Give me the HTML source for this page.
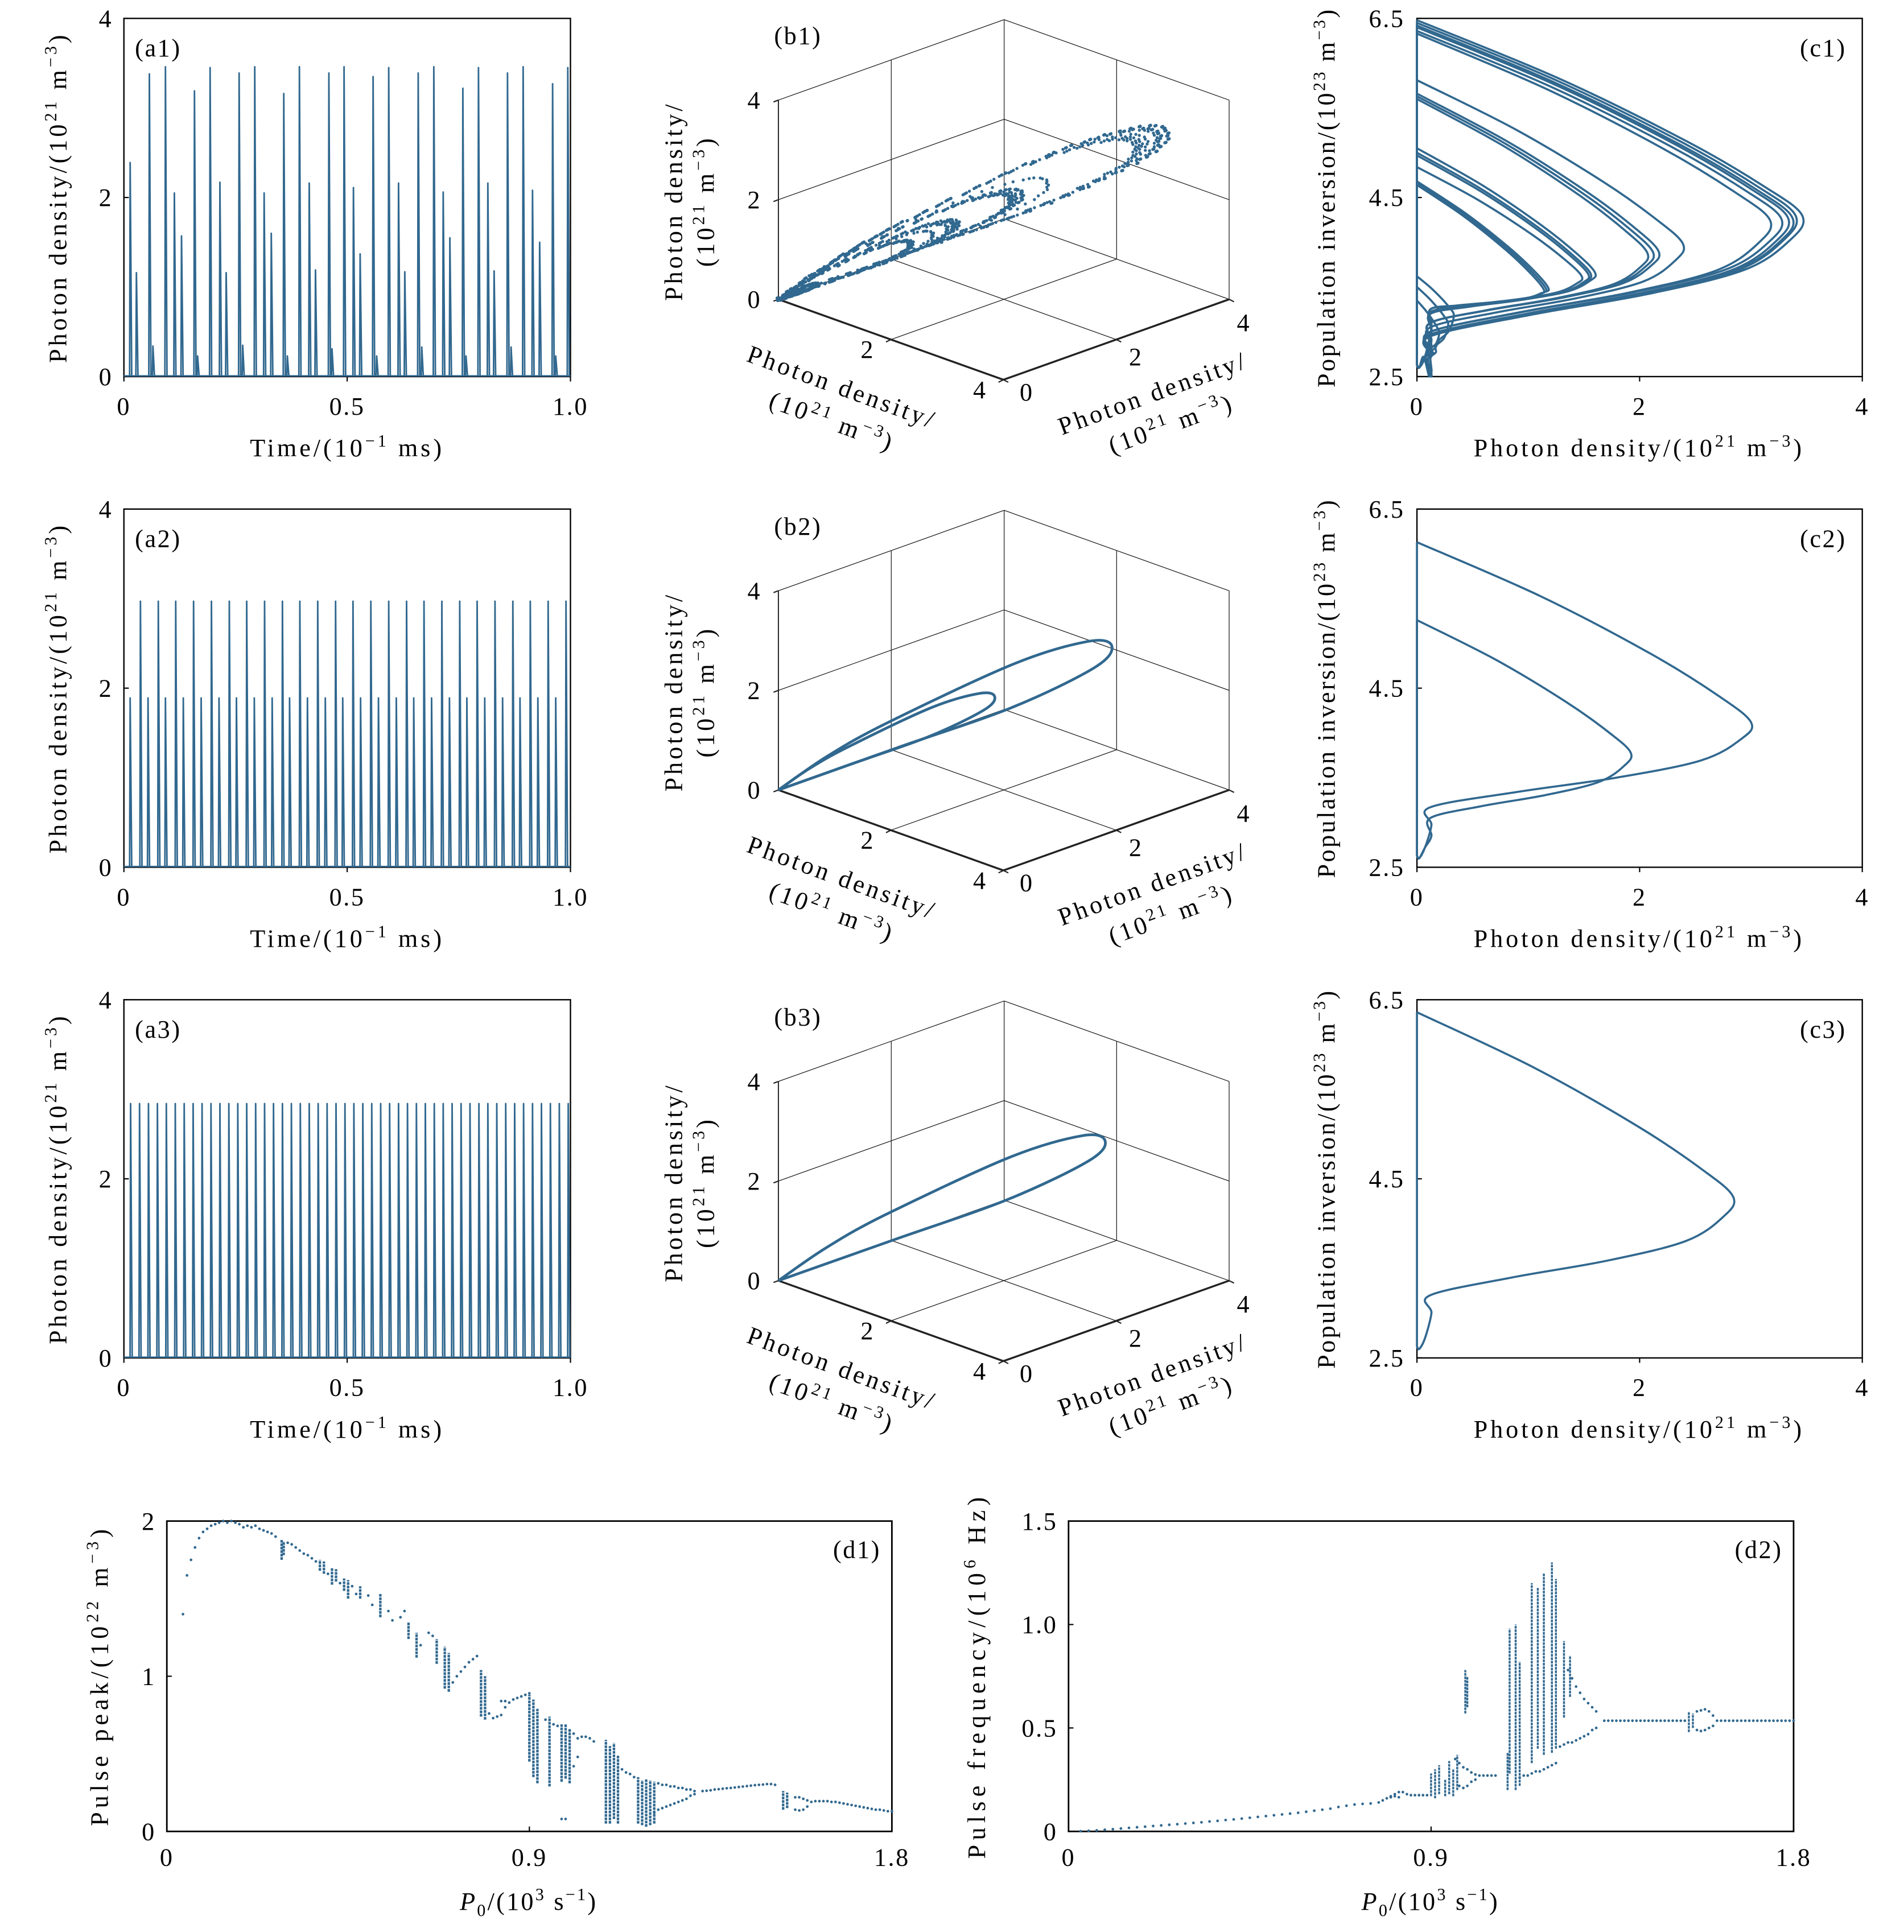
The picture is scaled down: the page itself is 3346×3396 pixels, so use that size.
<!DOCTYPE html>
<html><head><meta charset="utf-8"><style>
html,body{margin:0;padding:0;background:#fff}
svg{display:block}
text{font-family:"Liberation Serif","DejaVu Serif",serif;fill:#000}
</style></head><body>
<svg id="fig" xmlns="http://www.w3.org/2000/svg" width="3346" height="3396" viewBox="0 0 1552 1575" preserveAspectRatio="none">
<rect x="0" y="0" width="1552" height="1575" fill="#fff"/>
<g id="static"></g>
<g id="marks"></g>
</svg>
<script>
// ---------------- DATA ----------------
const a1Times=[0.014,0.028,0.057,0.065,0.093,0.113,0.129,0.158,0.165,0.193,0.215,0.229,0.258,0.266,0.293,0.314,0.330,0.358,0.366,0.393,0.415,0.429,0.459,0.466,0.493,0.514,0.529,0.558,0.566,0.593,0.615,0.629,0.659,0.667,0.694,0.715,0.730,0.759,0.766,0.794,0.815,0.829,0.859,0.867,0.894,0.915,0.931,0.960,0.967,0.994];
const a1Peaks=[2.39,1.16,3.38,0.34,3.46,2.05,1.57,3.19,0.23,3.45,2.17,1.16,3.39,0.35,3.46,2.05,1.60,3.16,0.23,3.46,2.16,1.19,3.39,0.31,3.46,2.11,1.37,3.35,0.23,3.45,2.16,1.17,3.39,0.33,3.46,2.06,1.55,3.22,0.23,3.45,2.16,1.18,3.39,0.33,3.46,2.08,1.50,3.27,0.23,3.45];
const a2Times=[0.014,0.037,0.054,0.077,0.093,0.116,0.133,0.156,0.173,0.196,0.213,0.236,0.252,0.275,0.292,0.315,0.332,0.355,0.371,0.394,0.411,0.434,0.451,0.474,0.490,0.513,0.530,0.553,0.570,0.593,0.610,0.633,0.649,0.672,0.689,0.712,0.729,0.752,0.768,0.791,0.808,0.831,0.848,0.871,0.887,0.910,0.927,0.950,0.967,0.990];
const a2Peaks=[1.89,2.97,1.89,2.97,1.89,2.97,1.89,2.97,1.89,2.97,1.89,2.97,1.89,2.97,1.89,2.97,1.89,2.97,1.89,2.97,1.89,2.97,1.89,2.97,1.89,2.97,1.89,2.97,1.89,2.97,1.89,2.97,1.89,2.97,1.89,2.97,1.89,2.97,1.89,2.97,1.89,2.97,1.89,2.97,1.89,2.97,1.89,2.97,1.89,2.97];
const a3Times=[0.015,0.035,0.055,0.075,0.095,0.115,0.135,0.155,0.175,0.195,0.215,0.235,0.255,0.275,0.295,0.315,0.335,0.355,0.375,0.395,0.415,0.435,0.455,0.475,0.495,0.515,0.535,0.555,0.575,0.595,0.615,0.635,0.655,0.675,0.695,0.715,0.735,0.755,0.775,0.795,0.815,0.835,0.855,0.875,0.895,0.915,0.935,0.955,0.975,0.995];
const a3Peak=2.84;
// 3D embedding loops [x,y,z]
const b2BigLoop=[[0,0,0],[0.1,0.77,0.41],[0.31,1.63,0.82],[1.43,2.76,2.0],[2.55,2.96,2.82],[2.96,2.96,2.88],[2.8,2.8,2.45],[2.04,2.1,1.63],[1.02,1.09,0.82],[0,0,0]];
const b2SmallLoop=[[0,0,0],[0.07,0.5,0.27],[0.2,1.06,0.53],[0.92,1.78,1.3],[1.65,1.92,1.83],[1.92,1.92,1.87],[1.82,1.82,1.6],[1.32,1.35,1.06],[0.66,0.7,0.53],[0,0,0]];
const b3Loop=[[0,0,0],[0.1,0.75,0.4],[0.3,1.6,0.8],[1.4,2.7,1.95],[2.5,2.9,2.75],[2.9,2.9,2.8],[2.75,2.75,2.4],[2.0,2.05,1.6],[1.0,1.07,0.8],[0,0,0]];
// phase portraits (top N, peak photon, N at peak, kink N)
const c1Top=[6.48,6.45,6.42,6.40,6.36,6.33,5.81,5.66,5.63,5.60,5.05,5.00,4.97,4.84,4.68,4.66,4.64,3.62,3.50,3.35];
const c1PeakX=[3.46,3.40,3.37,3.33,3.27,3.17,2.39,2.17,2.12,2.07,1.60,1.56,1.54,1.48,1.18,1.16,1.14,0.33,0.28,0.20];
const c1PeakY=[4.30,4.30,4.28,4.28,4.27,4.25,3.98,3.90,3.89,3.88,3.66,3.65,3.64,3.62,3.49,3.48,3.47,3.20,3.10,3.00];
const c1Kink=[2.95,2.95,2.97,2.97,3.00,3.00,3.05,3.10,3.10,3.10,3.20,3.20,3.20,3.22,3.25,3.25,3.25,2.75,2.70,2.70];
const c2Top=[6.13,5.26];
const c2PeakX=[3.0,1.92];
const c2PeakY=[4.12,3.78];
const c2Kink=[3.17,3.05];
const c3Top=[6.36];
const c3PeakX=[2.84];
const c3PeakY=[4.30];
const c3Kink=[3.20];
// bifurcation diagrams
const d1Points=[[0.04,1.4],[0.05,1.65],[0.06,1.75],[0.07,1.83],[0.08,1.89],[0.09,1.93],[0.1,1.95],[0.11,1.97],[0.12,1.98],[0.13,1.99],[0.14,2.0],[0.15,1.99],[0.16,2.0],[0.17,1.99],[0.18,1.98],[0.19,1.96],[0.2,1.97],[0.21,1.96],[0.22,1.97],[0.23,1.95],[0.24,1.94],[0.25,1.93],[0.26,1.92],[0.27,1.9],[0.3,1.86],[0.31,1.85],[0.32,1.83],[0.33,1.81],[0.34,1.79],[0.35,1.78],[0.36,1.76],[0.37,1.74],[0.4,1.66],[0.43,1.6],[0.46,1.58],[0.47,1.53],[0.5,1.52],[0.51,1.46],[0.55,1.42],[0.56,1.36],[0.58,1.38],[0.59,1.42],[0.63,1.2],[0.65,1.28],[0.66,1.26],[0.71,0.96],[0.72,1.0],[0.73,1.03],[0.74,1.06],[0.75,1.09],[0.76,1.11],[0.77,1.13],[0.8,0.76],[0.81,0.73],[0.82,0.74],[0.83,0.75],[0.84,0.8],[0.85,0.83],[0.86,0.85],[0.87,0.86],[0.88,0.87],[0.89,0.88],[0.9,0.89],[0.83,0.84],[0.84,0.84],[0.94,0.72],[0.96,0.69],[0.97,0.68],[1.0,0.65],[1.01,0.63],[1.02,0.6],[1.03,0.61],[1.04,0.61],[1.05,0.6],[1.06,0.58],[1.01,0.42],[1.02,0.48],[1.13,0.4],[1.14,0.38],[1.15,0.37],[1.16,0.35],[1.22,0.31],[1.23,0.3],[1.24,0.3],[1.25,0.29],[1.26,0.29],[1.27,0.28],[1.28,0.28],[1.29,0.27],[1.3,0.27],[1.31,0.26],[1.21,0.12],[1.22,0.14],[1.23,0.15],[1.24,0.16],[1.25,0.17],[1.26,0.18],[1.27,0.19],[1.28,0.2],[1.29,0.21],[1.3,0.23],[1.31,0.24],[1.33,0.26],[1.34,0.262],[1.35,0.265],[1.36,0.27],[1.37,0.272],[1.38,0.275],[1.39,0.278],[1.4,0.28],[1.41,0.283],[1.42,0.286],[1.43,0.289],[1.44,0.292],[1.45,0.295],[1.46,0.298],[1.47,0.3],[1.48,0.302],[1.49,0.305],[1.5,0.305],[1.51,0.3],[1.56,0.22],[1.57,0.22],[1.58,0.21],[1.59,0.2],[1.56,0.14],[1.57,0.135],[1.58,0.14],[1.59,0.16],[1.6,0.19],[1.61,0.195],[1.62,0.195],[1.63,0.195],[1.64,0.195],[1.65,0.19],[1.66,0.19],[1.67,0.185],[1.68,0.18],[1.69,0.175],[1.7,0.17],[1.71,0.165],[1.72,0.16],[1.73,0.155],[1.74,0.15],[1.75,0.145],[1.76,0.14],[1.77,0.14],[1.78,0.135],[1.79,0.13],[1.8,0.13],[0.98,0.08],[0.99,0.08]];
const d1Bands=[[0.285,1.75,1.88],[0.29,1.78,1.87],[0.38,1.68,1.75],[0.39,1.66,1.74],[0.41,1.59,1.70],[0.42,1.61,1.69],[0.44,1.55,1.63],[0.45,1.5,1.62],[0.48,1.5,1.58],[0.53,1.38,1.53],[0.6,1.24,1.35],[0.62,1.12,1.28],[0.67,1.08,1.24],[0.69,0.92,1.19],[0.7,0.9,1.15],[0.78,0.74,1.04],[0.79,0.72,1.0],[0.9,0.45,0.88],[0.91,0.35,0.85],[0.92,0.31,0.79],[0.95,0.29,0.74],[0.98,0.32,0.69],[0.99,0.34,0.69],[1.0,0.31,0.66],[1.09,0.05,0.59],[1.1,0.05,0.55],[1.11,0.08,0.57],[1.12,0.05,0.49],[1.17,0.05,0.35],[1.18,0.04,0.33],[1.19,0.03,0.34],[1.2,0.04,0.33],[1.21,0.05,0.32],[1.53,0.14,0.26],[1.54,0.15,0.25]];
const d2Points=[[0.03,0.001],[0.05,0.003],[0.07,0.005],[0.09,0.008],[0.11,0.011],[0.13,0.014],[0.15,0.017],[0.17,0.02],[0.19,0.023],[0.21,0.026],[0.23,0.029],[0.25,0.032],[0.27,0.035],[0.29,0.038],[0.31,0.041],[0.33,0.044],[0.35,0.048],[0.37,0.051],[0.39,0.055],[0.41,0.058],[0.43,0.062],[0.45,0.066],[0.47,0.07],[0.49,0.074],[0.51,0.078],[0.53,0.082],[0.55,0.086],[0.57,0.09],[0.59,0.095],[0.61,0.1],[0.63,0.105],[0.65,0.11],[0.67,0.118],[0.69,0.124],[0.71,0.13],[0.73,0.133],[0.75,0.135],[0.77,0.14],[0.78,0.15],[0.79,0.16],[0.8,0.165],[0.81,0.18],[0.82,0.19],[0.83,0.19],[0.84,0.18],[0.8,0.17],[0.81,0.17],[0.82,0.165],[0.85,0.175],[0.86,0.175],[0.87,0.175],[0.88,0.175],[0.89,0.175],[0.96,0.35],[0.97,0.33],[0.98,0.31],[0.99,0.3],[1.0,0.285],[1.01,0.275],[0.97,0.22],[0.98,0.21],[0.99,0.22],[1.0,0.24],[1.01,0.25],[1.02,0.27],[1.03,0.27],[1.04,0.27],[1.05,0.27],[1.06,0.27],[1.12,0.26],[1.13,0.27],[1.14,0.27],[1.15,0.28],[1.16,0.29],[1.17,0.29],[1.18,0.3],[1.19,0.31],[1.2,0.32],[1.21,0.33],[1.24,0.78],[1.25,0.74],[1.26,0.7],[1.27,0.67],[1.28,0.64],[1.29,0.62],[1.3,0.6],[1.31,0.58],[1.22,0.41],[1.23,0.42],[1.24,0.43],[1.25,0.43],[1.26,0.44],[1.27,0.45],[1.28,0.46],[1.29,0.47],[1.3,0.49],[1.31,0.5],[1.33,0.535],[1.34,0.535],[1.35,0.535],[1.36,0.535],[1.37,0.535],[1.38,0.535],[1.39,0.535],[1.4,0.535],[1.41,0.535],[1.42,0.535],[1.43,0.535],[1.44,0.535],[1.45,0.535],[1.46,0.535],[1.47,0.535],[1.48,0.535],[1.49,0.535],[1.5,0.535],[1.51,0.535],[1.52,0.535],[1.53,0.535],[1.56,0.58],[1.57,0.585],[1.58,0.59],[1.59,0.58],[1.6,0.56],[1.56,0.49],[1.57,0.485],[1.58,0.49],[1.59,0.5],[1.6,0.51],[1.61,0.535],[1.62,0.535],[1.63,0.535],[1.64,0.535],[1.65,0.535],[1.66,0.535],[1.67,0.535],[1.68,0.535],[1.69,0.535],[1.7,0.535],[1.71,0.535],[1.72,0.535],[1.73,0.535],[1.74,0.535],[1.75,0.535],[1.76,0.535],[1.77,0.535],[1.78,0.535],[1.79,0.535],[1.8,0.535]];
const d2Bands=[[0.9,0.17,0.28],[0.91,0.16,0.3],[0.92,0.18,0.32],[0.935,0.17,0.25],[0.945,0.18,0.34],[0.955,0.17,0.3],[0.965,0.2,0.37],[0.985,0.57,0.78],[0.99,0.6,0.75],[1.09,0.2,0.38],[1.095,0.28,0.98],[1.11,0.2,1.0],[1.12,0.22,0.82],[1.15,0.33,1.2],[1.165,0.4,1.18],[1.18,0.37,1.25],[1.2,0.38,1.3],[1.21,0.4,1.22],[1.23,0.55,0.92],[1.245,0.65,0.85],[1.54,0.48,0.58],[1.55,0.5,0.57]];

// ---------------- HELPERS ----------------
const NS='http://www.w3.org/2000/svg';
const COL='#31688f';
const FS=20.5, LS=1.2, TS=20.5, TLS=2.3;
const S=document.getElementById('static');
const M=document.getElementById('marks');
function mk(tag,attrs,parent){const e=document.createElementNS(NS,tag);for(const k in attrs)e.setAttribute(k,attrs[k]);parent.appendChild(e);return e;}
function txt(str,x,y,anchor,parent,size,ls){const t=mk('text',{x:x,y:y,'text-anchor':anchor||'middle','font-size':size||FS,'letter-spacing':ls===undefined?LS:ls},parent);t.textContent=str;return t;}
function sup(t,str,dy,size){const s=mk('tspan',{dy:dy,'font-size':size||14},t);s.textContent=str;return s;}
function plain(t,str,dy){const s=mk('tspan',{dy:dy},t);s.textContent=str;return s;}
function unitLabel(prefix,exp,after,x,y,rot,parent,minus,ls){
  const t=mk('text',{x:x,y:y,'text-anchor':'middle','font-size':TS,'letter-spacing':ls===undefined?TLS:ls,transform:rot?`rotate(${rot} ${x} ${y})`:''},parent);
  plain(t,prefix+'(10',0);sup(t,exp,-8);plain(t,after,8);
  if(minus){sup(t,minus,-8);plain(t,')',8);} else plain(t,')',0);
  return t;
}
function cr(pts){let d=`M${pts[0][0].toFixed(2)},${pts[0][1].toFixed(2)}`;const n=pts.length;
  for(let i=0;i<n-1;i++){const p0=pts[Math.max(i-1,0)],p1=pts[i],p2=pts[i+1],p3=pts[Math.min(i+2,n-1)];
    const c1=[p1[0]+(p2[0]-p0[0])/6,p1[1]+(p2[1]-p0[1])/6],c2=[p2[0]-(p3[0]-p1[0])/6,p2[1]-(p3[1]-p1[1])/6];
    d+=` C${c1[0].toFixed(2)},${c1[1].toFixed(2)} ${c2[0].toFixed(2)},${c2[1].toFixed(2)} ${p2[0].toFixed(2)},${p2[1].toFixed(2)}`;}
  return d;}
function crSample(pts,per){const out=[];const n=pts.length;
  for(let i=0;i<n-1;i++){const p0=pts[Math.max(i-1,0)],p1=pts[i],p2=pts[i+1],p3=pts[Math.min(i+2,n-1)];
    for(let k=0;k<per;k++){const t=k/per,t2=t*t,t3=t2*t;const q=[];
      for(let j=0;j<2;j++){q.push(0.5*((2*p1[j])+(-p0[j]+p2[j])*t+(2*p0[j]-5*p1[j]+4*p2[j]-p3[j])*t2+(-p0[j]+3*p1[j]-3*p2[j]+p3[j])*t3));}
      out.push(q);}}
  return out;}

// ---------------- (a) time series ----------------
const ax=t=>101+t*364;
const ay=(v,row)=>307+400*row-v/4*292;
function panelA(row,times,peaks,label){
  const o=400*row;
  const g=mk('g',{},S);
  
  
  const f=mk('rect',{x:101,y:15+o,width:364,height:292,fill:'none',stroke:'#000','stroke-width':1.1},g);
  
  
  [0,2,4].forEach(v=>{const l=mk('line',{x1:101,x2:105,y1:ay(v,row),y2:ay(v,row),stroke:'#000','stroke-width':1},g);
    
    
    const t=txt(String(v),92,ay(v,row)+7,'end',g);
    
    });
  [[0,'0'],[0.5,'0.5'],[1,'1.0']].forEach(([v,s])=>{const l=mk('line',{x1:ax(v),x2:ax(v),y1:307+o,y2:311+o,stroke:'#000','stroke-width':1},g);
    
    
    const t=txt(s,ax(v),338+o,'middle',g);
    
    });
  const xl=mk('text',{x:283,y:372+o,'text-anchor':'middle','font-size':TS,'letter-spacing':TLS},g);
  plain(xl,'Time/(10',0);sup(xl,'−1',-8);plain(xl,' ms)',8);
  
  
  const yl=unitLabel('Photon density/','21',' m',54,161+o,-90,g,'−3');
  
  
  const pl=txt('('+label+')',110,46+o,'start',g);
  
  
  const sg=mk('g',{},M);
  
  
  const base=mk('line',{x1:ax(0),x2:ax(1),y1:ay(0,row)-0.6,y2:ay(0,row)-0.6,stroke:COL,'stroke-width':1.2},sg);
  
  
  times.forEach((t,i)=>{const p=Array.isArray(peaks)?peaks[i]:peaks;
    const d=`M${ax(t-0.0012)},${ay(0,row)} L${ax(t)},${ay(p,row)} L${ax(t+0.0035)},${ay(0,row)}`;
    const s=mk('path',{d:d,fill:'none',stroke:COL,'stroke-width':1.3,'stroke-linejoin':'round'},sg);
    
    });
}
panelA(0,a1Times,a1Peaks,'a1');
panelA(1,a2Times,a2Peaks,'a2');
panelA(2,a3Times,a3Peak,'a3');

// ---------------- (b) 3D reconstructions ----------------
const EX=[45.85,16.4],EY=[46,-16.4],EZ=[0,-40.6];
function P(row,x,y,z){return [634.5+x*EX[0]+y*EY[0]+z*EZ[0],244+400*row+x*EX[1]+y*EY[1]+z*EZ[1]];}
function panelB(row,label){
  const o=400*row;
  const g=mk('g',{},S);
  
  
  const L=(a,b,w,nm)=>{const l=mk('line',{x1:a[0],y1:a[1],x2:b[0],y2:b[1],stroke:'#222','stroke-width':w},g);
    
    };
  L(P(row,0,0,4),P(row,0,4,4),0.6,'pane-edge');L(P(row,0,4,0),P(row,0,4,4),0.6,'pane-edge');
  L(P(row,0,2,0),P(row,0,2,4),0.6,'grid-line');L(P(row,0,0,2),P(row,0,4,2),0.6,'grid-line');
  L(P(row,0,4,4),P(row,4,4,4),0.6,'pane-edge');L(P(row,4,4,0),P(row,4,4,4),0.6,'pane-edge');
  L(P(row,2,4,0),P(row,2,4,4),0.6,'grid-line');L(P(row,0,4,2),P(row,4,4,2),0.6,'grid-line');
  L(P(row,0,0,0),P(row,0,4,0),0.6,'pane-edge');L(P(row,0,4,0),P(row,4,4,0),0.6,'pane-edge');
  L(P(row,2,0,0),P(row,2,4,0),0.6,'grid-line');L(P(row,0,2,0),P(row,4,2,0),0.6,'grid-line');
  L(P(row,0,0,0),P(row,4,0,0),1.6,'x-axis-line');L(P(row,4,0,0),P(row,4,4,0),1.6,'y-axis-line');L(P(row,0,0,0),P(row,0,0,4),0.9,'z-axis-line');
  [0,2,4].forEach(v=>{const p=P(row,0,0,v);L([p[0]-4,p[1]+1.5],p,1,'z-tick');
    const t=txt(String(v),615,p[1]+7,'middle',g);
    
    });
  [2,4].forEach(v=>{const p=P(row,v,0,0);L([p[0]-4,p[1]+2],p,1,'x-tick');
    const t=txt(String(v),p[0]-19,p[1]+15,'middle',g);
    
    });
  [0,2,4].forEach(v=>{const p=P(row,4,v,0);L(p,[p[0]+4,p[1]+2],1,'y-tick');
    const off=v===0?[19,17]:v===2?[16,21]:[12,26];
    const t=txt(String(v),p[0]+off[0],p[1]+off[1],'middle',g);
    
    });
  const t1=txt('Photon density/',556,164+o,'middle',g,TS,TLS);t1.setAttribute('transform',`rotate(-90 556 ${164+o})`);
  
  
  const t2=unitLabel('','21',' m',582,164+o,-90,g,'−3');
  
  
  const t3=txt('Photon density/',684,322+o,'middle',g,TS,TLS);t3.setAttribute('transform',`rotate(20 684 ${322+o})`);
  
  
  const t4=unitLabel('','21',' m',676,350+o,20,g,'−3');
  
  
  const t5=txt('Photon density/',942,327+o,'middle',g,TS,TLS);t5.setAttribute('transform',`rotate(-20 942 ${327+o})`);
  
  
  const t6=unitLabel('','21',' m',957,352+o,-20,g,'−3');
  
  
  const pl=txt('('+label+')',631,36+o,'start',g);
  
  
}
panelB(0,'b1');panelB(1,'b2');panelB(2,'b3');
function drawLoop3(row,loop,nm){const pts=loop.map(q=>P(row,q[0],q[1],q[2]));
  const p=mk('path',{d:cr(pts),fill:'none',stroke:COL,'stroke-width':2.2,'stroke-linejoin':'round'},M);
  
  }
drawLoop3(1,b2BigLoop,'attractor-loop-large');
drawLoop3(1,b2SmallLoop,'attractor-loop-small');
drawLoop3(2,b3Loop,'attractor-loop');
const b1g=mk('g',{fill:COL},M);


a1Peaks.forEach((pk,i)=>{const s=pk/2.9;
  const pts=b3Loop.map(q=>P(0,q[0]*s,q[1]*s,q[2]*s));
  crSample(pts,6).forEach((q,k)=>{const c=mk('circle',{cx:(q[0]+((i*7+k*3)%5-2)*0.5).toFixed(2),cy:(q[1]+((i*3+k*5)%5-2)*0.5).toFixed(2),r:1.25},b1g);
    
    });});

// ---------------- (c) phase portraits ----------------
const cx=x=>1155+x/4*363;
const cy=(y,row)=>307+400*row-(y-2.5)/4*292;
function panelC(row,label){
  const o=400*row;
  const g=mk('g',{},S);
  
  
  const f=mk('rect',{x:1155,y:15+o,width:363,height:292,fill:'none',stroke:'#000','stroke-width':1.1},g);
  
  
  [2.5,4.5,6.5].forEach(v=>{const l=mk('line',{x1:1155,x2:1159,y1:cy(v,row),y2:cy(v,row),stroke:'#000','stroke-width':1},g);
    
    
    const t=txt(v.toFixed(1),1145,cy(v,row)+7,'end',g);
    
    });
  [0,2,4].forEach(v=>{const l=mk('line',{x1:cx(v),x2:cx(v),y1:307+o,y2:311+o,stroke:'#000','stroke-width':1},g);
    
    
    const t=txt(String(v),cx(v),338+o,'middle',g);
    
    });
  const xl=unitLabel('Photon density/','21',' m',1336,372+o,0,g,'−3');
  
  
  const yl=unitLabel('Population inversion/','23',' m',1088,161+o,-90,g,'−3',1.6);
  
  
  const pl=txt('('+label+')',1505,46+o,'end',g);
  
  
}
panelC(0,'c1');panelC(1,'c2');panelC(2,'c3');
function drawC(row,tops,pxs,pys,kys,nm){
  tops.forEach((top,i)=>{const px=pxs[i],py=pys[i],ky=kys[i];
    const kx=Math.min(0.12,0.5*px);
    const raw=[[0,top],[0.37*px,py+0.70*(top-py)],[0.7*px,py+0.38*(top-py)],[0.9*px,py+0.15*(top-py)],[px,py],
      [0.97*px,ky+0.8*(py-ky)],[0.85*px,ky+0.55*(py-ky)],[0.6*px,ky+0.35*(py-ky)],[Math.max(0.3*px,kx+0.05),ky+0.18*(py-ky)],
      [kx,ky],[kx+0.01,ky-0.2],[0.6*kx,2.72],[0.02,2.6],[0,2.63]];
    const pts=raw.map(q=>[cx(q[0]),cy(q[1],row)]);
    const d=cr(pts)+` L${cx(0)},${cy(top,row)}`;
    const p=mk('path',{d:d,fill:'none',stroke:COL,'stroke-width':1.7,'stroke-linejoin':'round'},M);
    
    });}
drawC(0,c1Top,c1PeakX,c1PeakY,c1Kink,'phase-trajectory');
drawC(1,c2Top,c2PeakX,c2PeakY,c2Kink,'phase-trajectory');
drawC(2,c3Top,c3PeakX,c3PeakY,c3Kink,'phase-trajectory');

// ---------------- (d) bifurcation diagrams ----------------
function panelD(x0,label,yticks,ymax,ylabelFn,ylabX){
  const g=mk('g',{},S);
  
  
  const f=mk('rect',{x:x0,y:1240,width:591,height:253,fill:'none',stroke:'#000','stroke-width':1.3},g);
  
  
  yticks.forEach(([v,s])=>{const y=1493-v/ymax*253;
    const l=mk('line',{x1:x0,x2:x0+4,y1:y,y2:y,stroke:'#000','stroke-width':1},g);
    
    
    const t=txt(s,x0-9,y+7,'end',g);
    
    });
  [[0,'0'],[0.9,'0.9'],[1.8,'1.8']].forEach(([v,s])=>{const x=x0+v/1.8*591;
    const l=mk('line',{x1:x,x2:x,y1:1493,y2:1489,stroke:'#000','stroke-width':1},g);
    
    
    const t=txt(s,x,1521,'middle',g);
    
    });
  const xl=mk('text',{x:x0+295,y:1557,'text-anchor':'middle','font-size':TS,'letter-spacing':1.5},g);
  const it=mk('tspan',{'font-style':'italic'},xl);it.textContent='P';
  sup(xl,'0',5);plain(xl,'/(10',-5);sup(xl,'3',-8);plain(xl,' s',8);sup(xl,'−1',-8);plain(xl,')',8);
  
  
  const yl=ylabelFn(ylabX,1366,g);
  
  
  const pl=txt('('+label+')',x0+582,1270,'end',g);
  
  
}
panelD(136,'d1',[[0,'0'],[1,'1'],[2,'2']],2,(x,y,g)=>unitLabel('Pulse peak/','22',' m',x,y,-90,g,'−3',3.2),88);
panelD(871,'d2',[[0,'0'],[0.5,'0.5'],[1.0,'1.0'],[1.5,'1.5']],1.5,(x,y,g)=>unitLabel('Pulse frequency/','6',' Hz',x,y,-90,g,null,3.8),803);
function drawD(x0,ymax,points,bands,nm,bw){
  const X=v=>x0+v/1.8*591, Y=v=>1493-v/ymax*253;
  const g=mk('g',{fill:COL},M);
  
  
  bands.forEach(b=>{const l=mk('line',{x1:X(b[0]),x2:X(b[0]),y1:Y(b[1]),y2:Y(b[2]),stroke:COL,'stroke-width':bw,'stroke-dasharray':'2.2 0.6'},g);
    
    });
  points.forEach(p=>{const c=mk('circle',{cx:X(p[0]),cy:Y(p[1]),r:1.1},g);
    
    });}
drawD(136,2,d1Points,d1Bands,'pulse-peak-points',2);
drawD(871,1.5,d2Points,d2Bands,'pulse-frequency-points',1.6);
</script>
</body></html>
